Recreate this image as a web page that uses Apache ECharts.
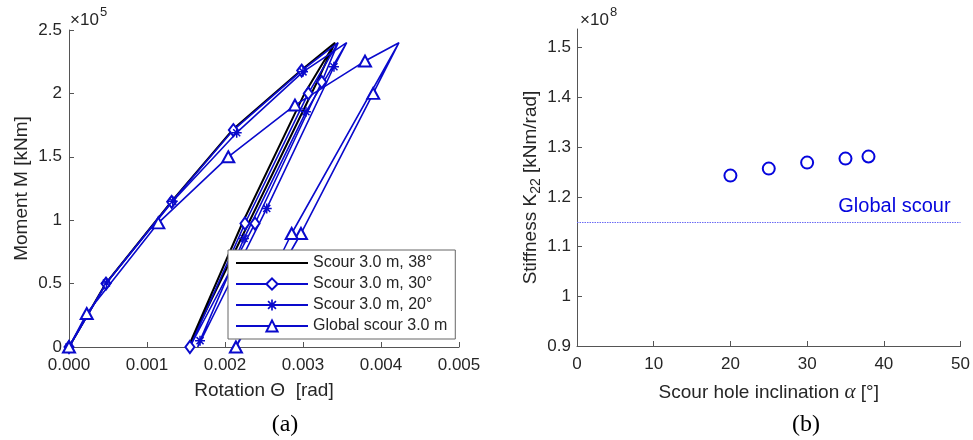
<!DOCTYPE html>
<html><head><meta charset="utf-8">
<script src="https://cdn.jsdelivr.net/npm/echarts@6/dist/echarts.min.js"></script>
<style>html,body{margin:0;padding:0;background:#fff}#c{width:973px;height:440px}</style>
</head><body><div id="c"></div>
<script>
// ---------- data: panel (a) ----------
const seriesNames = ['Scour 3.0 m, 38°', 'Scour 3.0 m, 30°', 'Scour 3.0 m, 20°', 'Global scour 3.0 m'];
// rotation [rad] and moment [kNm]: loading -> peak -> unloading -> reloading -> peak
const rot38 = [0, 0.00047, 0.00131, 0.00210, 0.00298, 0.00341, 0.00318, 0.00230, 0.00153, 0.00222, 0.00302, 0.00341];
const mom38 = [0, 50000, 114500, 171500, 218500, 240000, 209000, 97400, 0, 97400, 200000, 240000];
const mark38 = [];
const rot30 = [0, 0.000474, 0.001316, 0.002107, 0.002983, 0.00345, 0.00324, 0.002385, 0.00155, 0.002256, 0.003068, 0.00345];
const mom30 = [0, 50000, 114500, 171100, 218000, 240000, 209000, 97400, 0, 97400, 200000, 240000];
const mark30 = [0, 1, 2, 3, 4, 6, 7, 8, 9, 10];
const rot20 = [0, 0.00048, 0.00133, 0.00215, 0.00300, 0.00356, 0.003397, 0.002535, 0.00165, 0.00168, 0.002244, 0.003038, 0.00356];
const mom20 = [0, 50500, 115000, 169000, 217000, 240000, 221000, 109300, 0, 5000, 85600, 185500, 240000];
const mark20 = [0, 1, 2, 3, 4, 6, 7, 9, 10, 11];
const rotG = [0, 0.000227, 0.001145, 0.002042, 0.002897, 0.003795, 0.00423, 0.00390, 0.002974, 0.00214, 0.002855, 0.00423];
const momG = [0, 26400, 97900, 150000, 190800, 225500, 240000, 200000, 89500, 0, 89500, 240000];
const markG = [0, 1, 2, 3, 4, 5, 7, 8, 9, 10];
const rotTicks = [0, 0.001, 0.002, 0.003, 0.004, 0.005];
const momTicks = [0, 50000, 100000, 150000, 200000, 250000];

// ---------- data: panel (b) ----------
const inclination = [20, 25, 30, 35, 38];
const stiffness = [1.2427e8, 1.2568e8, 1.2689e8, 1.2769e8, 1.2810e8];
const globalStiffness = 1.148e8;
const kTicks = [0.9e8, 1.0e8, 1.1e8, 1.2e8, 1.3e8, 1.4e8, 1.5e8];
const alphaTicks = [0, 10, 20, 30, 40, 50];

// ---------- styling ----------
const FONT = '"Liberation Sans", Arial, sans-serif';
const TXT = '#262626';
const AX = '#555555';
const BLUE = '#0a0acc';
const BLUE2 = '#0505dd';
const asterisk = 'path://M-1.5,-10L1.5,-10L1.5,10L-1.5,10Z M-10,-1.5L10,-1.5L10,1.5L-10,1.5Z M-6,-8.1L8.1,6L6,8.1L-8.1,-6Z M6,-8.1L8.1,-6L-6,8.1L-8.1,6Z';

function build(rot, mom, marks) {
  return rot.map((x, i) => marks.includes(i) ? [x, mom[i]] : { value: [x, mom[i]], symbol: 'none' });
}

function axisCommon(extra) {
  return Object.assign({
    type: 'value',
    axisLine: { show: true, onZero: false, lineStyle: { color: AX, width: 1 } },
    axisTick: { show: true, inside: true, length: 5, lineStyle: { color: AX } },
    splitLine: { show: false },
    nameLocation: 'middle',
    nameTextStyle: { fontSize: 19, color: TXT, fontFamily: FONT },
  }, extra);
}

const chart = echarts.init(document.getElementById('c'), null, { renderer: 'canvas' });
chart.setOption({
  animation: false,
  backgroundColor: '#fff',
  textStyle: { fontFamily: FONT },
  grid: [
    { left: 69, right: 514, top: 30, bottom: 93 },
    { left: 577, right: 11, top: 29, bottom: 94 }
  ],
  xAxis: [
    axisCommon({
      gridIndex: 0, min: 0, max: 0.005, interval: 0.001,
      axisLabel: { fontSize: 17, color: TXT, margin: 10, formatter: v => v.toFixed(3), customValues: rotTicks },
      axisTick: { show: true, inside: true, length: 5, lineStyle: { color: AX }, customValues: rotTicks },
      name: 'Rotation Θ  [rad]', nameGap: 34
    }),
    axisCommon({
      gridIndex: 1, min: 0, max: 50, interval: 10,
      axisLabel: { fontSize: 17, color: TXT, margin: 10, customValues: alphaTicks },
      axisTick: { show: true, inside: true, length: 5, lineStyle: { color: AX }, customValues: alphaTicks },
      name: 'Scour hole inclination {a|α} [°]', nameGap: 36,
      nameTextStyle: { fontSize: 19, color: TXT, fontFamily: FONT,
        rich: { a: { fontSize: 21, fontStyle: 'italic', fontFamily: '"Liberation Serif", serif', color: TXT } } }
    })
  ],
  yAxis: [
    axisCommon({
      gridIndex: 0, min: 0, max: 250000, interval: 50000,
      axisLabel: { fontSize: 17, color: TXT, margin: 7, formatter: v => String(Math.round(v / 1e4) / 10), customValues: momTicks },
      axisTick: { show: true, inside: true, length: 5, lineStyle: { color: AX }, customValues: momTicks },
      name: 'Moment M [kNm]', nameGap: 38
    }),
    axisCommon({
      gridIndex: 1, min: 0.9e8, max: 1.5376e8,
      axisLabel: { fontSize: 17, color: TXT, margin: 6, formatter: v => String(Math.round(v / 1e7) / 10), customValues: kTicks },
      axisTick: { show: true, inside: true, length: 5, lineStyle: { color: AX }, customValues: kTicks },
      name: '{m|Stiffness K}{sub|22}{m| [kNm/rad]}', nameGap: 36,
      nameTextStyle: { fontSize: 19, color: TXT, fontFamily: FONT,
        rich: {
          m: { fontSize: 19, color: TXT, fontFamily: FONT, lineHeight: 20 },
          sub: { fontSize: 14, color: TXT, fontFamily: FONT, lineHeight: 14, padding: [10, 0, 0, 0] }
        } }
    })
  ],
  legend: {
    orient: 'vertical', left: 228, top: 250,
    itemWidth: 72, itemHeight: 14, itemGap: 5,
    padding: [5, 8, 5, 7],
    borderColor: '#666', borderWidth: 1, backgroundColor: '#fff',
    textStyle: { fontSize: 16, color: TXT, fontFamily: FONT },
    data: seriesNames
  },
  series: [
    { type: 'line', name: seriesNames[0], xAxisIndex: 0, yAxisIndex: 0,
      data: build(rot38, mom38, mark38), symbol: 'circle', showSymbol: false,
      itemStyle: { color: 'transparent' }, lineStyle: { color: '#000', width: 2 } },
    { type: 'line', name: seriesNames[1], xAxisIndex: 0, yAxisIndex: 0,
      data: build(rot30, mom30, mark30), symbol: 'emptyDiamond', symbolSize: [9, 12], showAllSymbol: true,
      itemStyle: { color: BLUE, borderWidth: 1.5 }, lineStyle: { color: BLUE, width: 1.6 } },
    { type: 'line', name: seriesNames[2], xAxisIndex: 0, yAxisIndex: 0,
      data: build(rot20, mom20, mark20), symbol: asterisk, symbolSize: 10, showAllSymbol: true,
      itemStyle: { color: BLUE }, lineStyle: { color: BLUE, width: 1.6 } },
    { type: 'line', name: seriesNames[3], xAxisIndex: 0, yAxisIndex: 0,
      data: build(rotG, momG, markG), symbol: 'emptyTriangle', symbolSize: [12, 11], showAllSymbol: true,
      itemStyle: { color: BLUE, borderWidth: 1.5 }, lineStyle: { color: BLUE, width: 1.6 } },
    { type: 'scatter', xAxisIndex: 1, yAxisIndex: 1,
      data: inclination.map((a, i) => [a, stiffness[i]]),
      symbol: 'emptyCircle', symbolSize: 12,
      itemStyle: { color: BLUE2, borderWidth: 2, opacity: 1 },
      markLine: {
        silent: true, symbol: 'none', animation: false,
        data: [{ yAxis: globalStiffness }],
        lineStyle: { color: '#6a6af5', type: [1.5, 1], width: 1, opacity: 1 },
        label: { show: true, position: 'insideEndTop', formatter: 'Global scour',
          color: BLUE2, fontSize: 20, fontFamily: FONT, distance: [10, 6] }
      } }
  ],
  graphic: [
    { type: 'text', left: 70, top: 12, style: { text: '×10', fontSize: 17, fill: TXT, fontFamily: FONT } },
    { type: 'text', left: 100, top: 6, style: { text: '5', fontSize: 13, fill: TXT, fontFamily: FONT } },
    { type: 'text', left: 580, top: 12, style: { text: '×10', fontSize: 17, fill: TXT, fontFamily: FONT } },
    { type: 'text', left: 610, top: 6, style: { text: '8', fontSize: 13, fill: TXT, fontFamily: FONT } },
    { type: 'text', x: 285, y: 425, style: { text: '(a)', fontSize: 24, fill: '#000', fontFamily: '"Liberation Serif", serif', align: 'center', verticalAlign: 'middle' } },
    { type: 'text', x: 806, y: 425, style: { text: '(b)', fontSize: 24, fill: '#000', fontFamily: '"Liberation Serif", serif', align: 'center', verticalAlign: 'middle' } }
  ]
});
</script>
</body></html>
